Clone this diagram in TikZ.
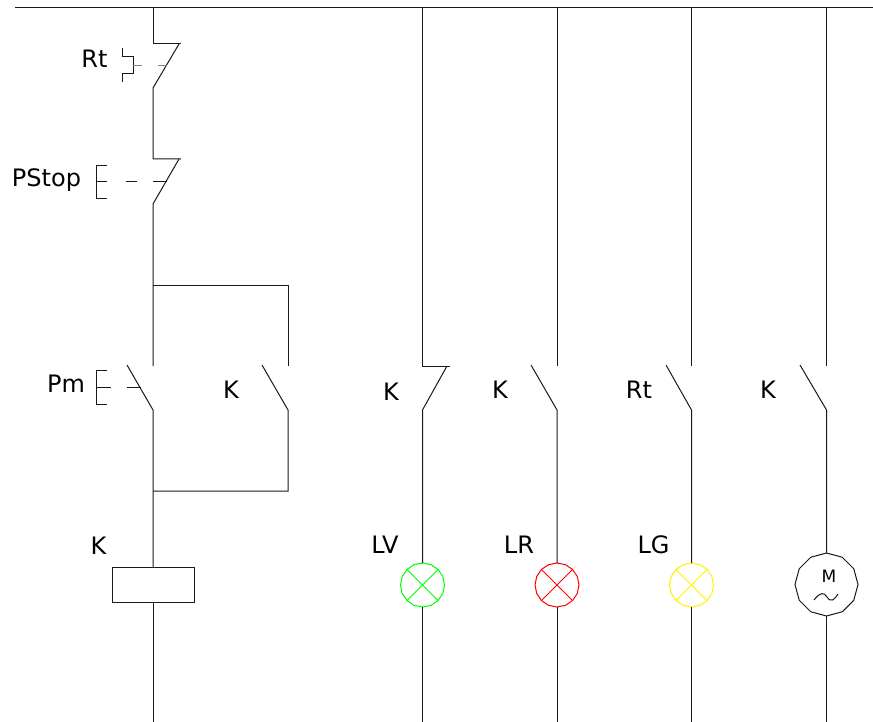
\documentclass[tikz,border=0pt]{standalone}
\usepackage{fontspec}
\setmainfont{DejaVu Sans}
\usetikzlibrary{shapes.geometric}
\tikzset{
  wire/.style = {line width=1pt, black!90},
  tag/.style = {font=\fontsize{24}{24}\selectfont, inner sep=0pt},
  lamp/.style = {draw, line width=1pt, regular polygon, regular polygon sides=16, shape border rotate=11.25, minimum size=44pt, inner sep=0pt, outer sep=0pt},
  motor/.style = {draw, line width=1pt, regular polygon, regular polygon sides=12, shape border rotate=15, minimum size=63pt, inner sep=0pt, outer sep=0pt, black!90},
  coil/.style = {draw, line width=1pt, black!90, minimum width=82pt, minimum height=35pt, inner sep=0pt, outer sep=0pt}
}

\begin{document}
\begin{tikzpicture}[x=1pt,y=-1pt]
\useasboundingbox (0,0) rectangle (873,722);
\coordinate (busl) at (15,7.6);
\coordinate (busr) at (873,7.6);
\coordinate (a0) at (153,8);
\coordinate (a1) at (153,44);
\coordinate (a2) at (181,44);
\coordinate (a2t) at (179,44);
\coordinate (a3) at (153,88);
\coordinate (a4) at (153,159);
\coordinate (a5) at (181,159);
\coordinate (a5t) at (179,159);
\coordinate (a6) at (153,204);
\coordinate (a7) at (153,285);
\coordinate (a8) at (153,366);
\coordinate (a9) at (127,365);
\coordinate (a10) at (153,410);
\coordinate (a11) at (153,491);
\coordinate (a12) at (153,722);
\coordinate (b1) at (288,285);
\coordinate (b2) at (288,366);
\coordinate (b3) at (262,365);
\coordinate (b4) at (288,410);
\coordinate (b5) at (288,491);
\node[coil] (K) at (153.6,584.5) {};
\node[tag] (tRt) at (94.5,58.5) {Rt};
\node[tag] (tPStop) at (46.5,180) {PStop};
\node[tag] (tPm) at (66,384) {Pm};
\node[tag] (tKa) at (231,390) {K};
\node[tag] (tKb) at (98.5,546) {K};
\node[tag] (tKc) at (391,392) {K};
\node[tag] (tKd) at (500,390) {K};
\node[tag] (tRtb) at (639,390) {Rt};
\node[tag] (tKe) at (768,390) {K};
\node[tag] (tLV) at (385,545) {LV};
\node[tag] (tLR) at (519,545) {LR};
\node[tag] (tLG) at (653.5,545) {LG};
\draw[wire] (busl) -- (busr);
\draw[wire] (a0) -- (a1) -- (a2);
\draw[wire] (a2t) -- (a3) -- (a4) -- (a5);
\draw[wire] (a5t) -- (a6) -- (a8);
\draw[wire] (a9) -- (a10) -- (K.north -| a10);
\draw[wire] (K.south -| a10) -- (a12);
\draw[wire] (a7) -- (b1) -- (b2);
\draw[wire] (b3) -- (b4) -- (b5) -- (a11);
\draw[wire] (122,48.5) -- (122,56.5) -- (133,56.5) -- (133,73.5) -- (122,73.5) -- (122,82.5);
\draw[wire, gray] (133,65.5) -- (142,65.5) (158,65.5) -- (167,65.5);
\draw[wire] (107,165.5) -- (96,165.5) -- (96,198.5) -- (107,198.5) (96,181.5) -- (107,181.5);
\draw[wire] (126,181.5) -- (137,181.5) (153,181.5) -- (167,181.5);
\draw[wire] (107,370.5) -- (96,370.5) -- (96,404.5) -- (107,404.5) (96,387.5) -- (111,387.5);
\draw[wire] (127,387.5) -- (141,387.5);
\node[lamp, green] (LV) at (422.5,585) {};
\node[lamp, red] (LR) at (557,585) {};
\node[lamp, yellow] (LG) at (691.5,585) {};
\node[motor] (M) at (826.5,584.5) {};
\node[font=\fontsize{17}{17}\selectfont, inner sep=0pt] (tM) at (829,576) {M};
\draw[wire] (814,600) .. controls (820,592) and (824,592) .. (827,597) .. controls (831,603) and (834,600) .. (838,594);
\draw[green, line width=1pt] (LV.45) -- (LV.225) (LV.135) -- (LV.315);
\draw[red, line width=1pt] (LR.45) -- (LR.225) (LR.135) -- (LR.315);
\draw[yellow, line width=1pt] (LG.45) -- (LG.225) (LG.135) -- (LG.315);
\coordinate (c0) at (422.5,8);
\coordinate (c1) at (422.5,366);
\coordinate (c2) at (450,366);
\coordinate (c2t) at (447,366);
\coordinate (c3) at (422.5,410);
\coordinate (c4) at (422.5,722);
\draw[wire] (c0) -- (c1) -- (c2);
\draw[wire] (c2t) -- (c3) -- (LV.north);
\draw[wire] (LV.south) -- (c4);
\coordinate (d0) at (557,8);
\coordinate (d1) at (557,366);
\coordinate (d2) at (531,365);
\coordinate (d3) at (557,410);
\coordinate (d4) at (557,722);
\draw[wire] (d0) -- (d1);
\draw[wire] (d2) -- (d3) -- (LR.north);
\draw[wire] (LR.south) -- (d4);
\coordinate (e0) at (691.5,8);
\coordinate (e1) at (691.5,366);
\coordinate (e2) at (666,365);
\coordinate (e3) at (691.5,410);
\coordinate (e4) at (691.5,722);
\draw[wire] (e0) -- (e1);
\draw[wire] (e2) -- (e3) -- (LG.north);
\draw[wire] (LG.south) -- (e4);
\coordinate (f0) at (826.5,8);
\coordinate (f1) at (826.5,366);
\coordinate (f2) at (800,365);
\coordinate (f3) at (826.5,410);
\coordinate (f4) at (826.5,722);
\draw[wire] (f0) -- (f1);
\draw[wire] (f2) -- (f3) -- (M.north);
\draw[wire] (M.south) -- (f4);
\end{tikzpicture}
\end{document}
